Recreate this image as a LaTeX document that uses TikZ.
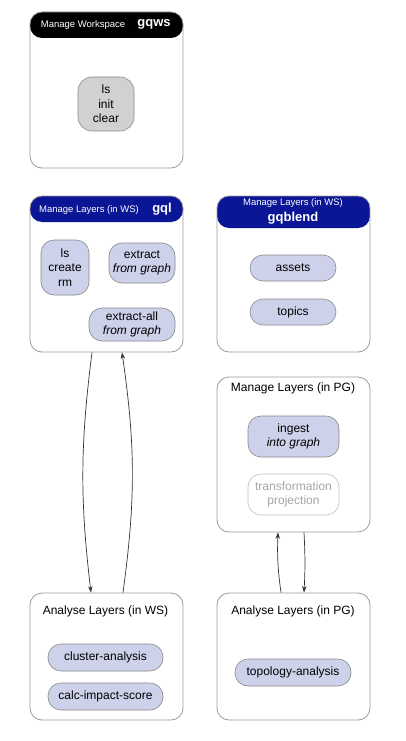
\documentclass[tikz,border=0pt]{standalone}
\usepackage{fontspec}
\setmainfont{Liberation Sans}
\usetikzlibrary{arrows.meta}

\definecolor{headblue}{HTML}{0A1696}
\definecolor{panelgray}{HTML}{9C9C9C}
\definecolor{cmdfill}{HTML}{CDD1EA}
\definecolor{cmdline}{HTML}{8A8A8A}
\definecolor{fadegray}{HTML}{A6A6A6}

\begin{document}
\begin{tikzpicture}[
            x = 1pt, y = -1pt, % pixel grid, y going down
            > = {Stealth[length=6.5pt, width=4.5pt]}, % arrow head style
            font = \fontsize{12}{14.5}\selectfont
        ]

        \tikzstyle{panel}=[
            draw = panelgray,
            line width = 0.8pt,
            fill = white,
            rounded corners = 12pt,
            minimum width = 153pt,
            inner sep = 0pt
        ]
        \tikzstyle{head}=[
            path picture = {\fill[#1] (path picture bounding box.north west)
                rectangle ([yshift=-\headh]path picture bounding box.north east);}
        ]
        \tikzstyle{cmd}=[
            draw = cmdline,
            line width = 0.6pt,
            fill = cmdfill,
            rounded corners = 13pt,
            align = center,
            inner sep = 0pt
        ]
        \tikzstyle{headtxt}=[text = white, font = \fontsize{9.5}{11}\selectfont]
        \tikzstyle{headname}=[text = white, font = \fontsize{13}{15}\bfseries]
        \tikzstyle{link}=[draw = black!80, line width = 0.7pt, ->]

        \useasboundingbox (0,0) rectangle (406,741);

        % panels
        \def\headh{26pt}
        \node[panel, head = black, minimum height = 156pt] (gqws) at (106.5,90) {};
        \node[panel, head = headblue, minimum height = 156pt] (gql) at (106.5,274) {};
        \node[panel, minimum height = 156pt, path picture = {\fill[headblue]
            (path picture bounding box.north west) rectangle ([yshift=-32pt]path picture bounding box.north east);}]
            (gqblend) at (293.5,274) {};
        \node[panel, minimum height = 155pt] (mpg) at (293.5,454.5) {};
        \node[panel, minimum height = 127pt] (aws) at (106.5,656.5) {};
        \node[panel, minimum height = 127pt] (apg) at (293.5,656.5) {};

        % titles
        \node[headtxt] (gqwst) at (83,25) {Manage Workspace};
        \node[headname] (gqwsn) at (154,24) {gqws};
        \node[headtxt] (gqlt) at (89,210) {Manage Layers (in WS)};
        \node[headname] (gqln) at (162,209) {gql};
        \node[headtxt] (gqblendt) at (293,203) {Manage Layers (in WS)};
        \node[headname] (gqblendn) at (293,218) {gqblend};
        \node (mpgt) at (293,388) {Manage Layers (in PG)};
        \node (awst) at (105.5,611) {Analyse Layers (in WS)};
        \node (apgt) at (293,611) {Analyse Layers (in PG)};

        % commands
        \node[cmd, fill = black!18, rounded corners = 14pt, minimum width = 56pt, minimum height = 54pt]
            (wscmd) at (106,104) {ls\\init\\clear};
        \node[cmd, minimum width = 48pt, minimum height = 55pt] (lscmd) at (65,267.5) {ls\\create\\rm};
        \node[cmd, minimum width = 66pt, minimum height = 40pt] (extract) at (142,263) {extract\\\textit{from graph}};
        \node[cmd, minimum width = 86pt, minimum height = 33pt] (extractall) at (132,324.5) {extract-all\\\textit{from graph}};
        \node[cmd, minimum width = 86pt, minimum height = 26pt] (assets) at (293,268) {assets};
        \node[cmd, minimum width = 86pt, minimum height = 26pt] (topics) at (293,312) {topics};
        \node[cmd, minimum width = 91pt, minimum height = 41pt] (ingest) at (293.5,436.5) {ingest\\\textit{into graph}};
        \node[cmd, draw = black!25, fill = white, text = fadegray, minimum width = 91pt, minimum height = 41pt]
            (transf) at (293.5,494.5) {transformation\\projection};
        \node[cmd, minimum width = 115pt, minimum height = 27pt] (cluster) at (105.5,657.5) {cluster-analysis};
        \node[cmd, minimum width = 115pt, minimum height = 27pt] (calc) at (105.5,696.5) {calc-impact-score};
        \node[cmd, minimum width = 116pt, minimum height = 27pt] (topology) at (293,672.5) {topology-analysis};

        % flows
        \draw[link] ([xshift=-14.5pt]gql.south) to[bend right = 7] ([xshift=-15.5pt]aws.north);
        \draw[link] ([xshift=16.5pt]aws.north) to[bend right = 8] ([xshift=15.5pt]gql.south);
        \draw[link] ([xshift=-12.5pt]apg.north) to[bend left = 5] ([xshift=-15.5pt]mpg.south);
        \draw[link] ([xshift=10.5pt]mpg.south) to[bend left = 3] ([xshift=10.5pt]apg.north);

    \end{tikzpicture}
\end{document}
